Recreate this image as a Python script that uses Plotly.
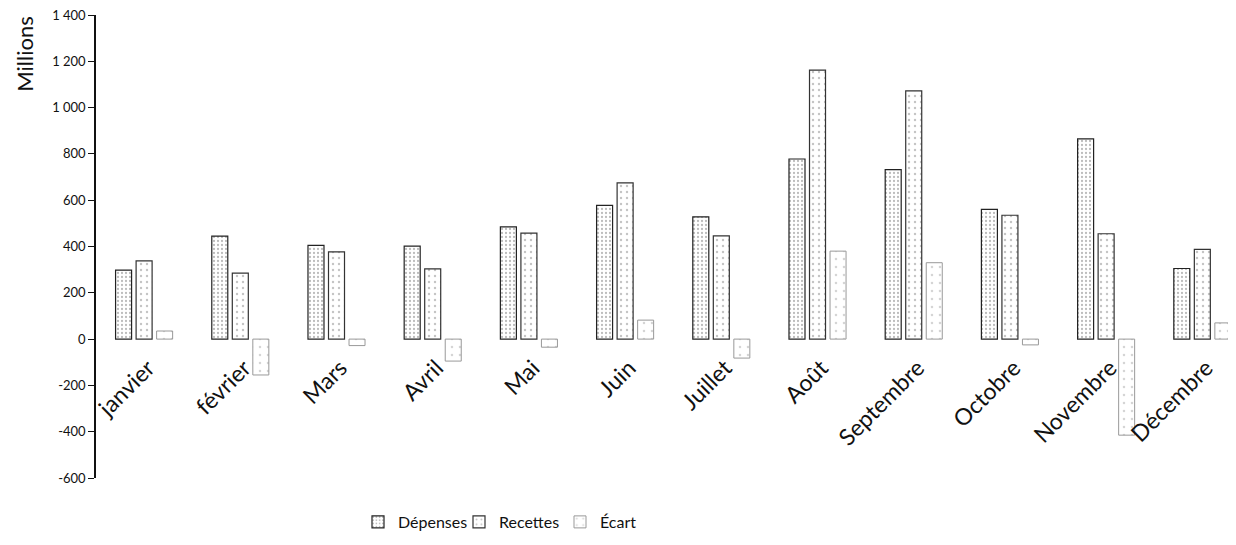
import plotly.graph_objects as go

mois = ["janvier", "février", "Mars", "Avril", "Mai", "Juin", "Juillet",
        "Août", "Septembre", "Octobre", "Novembre", "Décembre"]
depenses = [298, 445, 405, 402, 485, 578, 528, 778, 732, 560, 865, 305]
recettes = [338, 285, 377, 303, 458, 675, 446, 1162, 1072, 535, 455, 388]
ecart = [35, -155, -28, -95, -35, 82, -82, 380, 330, -25, -415, 70]

ytick_vals = [1400, 1200, 1000, 800, 600, 400, 200, 0, -200, -400, -600]
ytick_text = ["1 400", "1 200", "1 000", "800", "600", "400", "200", "0",
              "-200", "-400", "-600"]

fig = go.Figure()
fig.add_trace(go.Bar(
    name="Dépenses", x=mois, y=depenses,
    marker=dict(color="white", line=dict(color="#222", width=1.2),
                pattern=dict(shape=".", size=4, solidity=0.25,
                             fgcolor="#777", bgcolor="white")),
))
fig.add_trace(go.Bar(
    name="Recettes", x=mois, y=recettes,
    marker=dict(color="white", line=dict(color="#333", width=1.2),
                pattern=dict(shape=".", size=6, solidity=0.12,
                             fgcolor="#888", bgcolor="white")),
))
fig.add_trace(go.Bar(
    name="Écart", x=mois, y=ecart,
    marker=dict(color="white", line=dict(color="#999", width=1),
                pattern=dict(shape=".", size=8, solidity=0.08,
                             fgcolor="#aaa", bgcolor="white")),
))

fig.update_layout(
    width=1228, height=537,
    paper_bgcolor="white", plot_bgcolor="white",
    margin=dict(l=88, r=0, t=7, b=67, autoexpand=False),
    barmode="group", bargap=0.36, bargroupgap=0.22,
    font=dict(family="Lato, Open Sans, sans-serif", color="#111"),
    showlegend=True,
    legend=dict(orientation="h", x=(350 - 88) / 1140, xanchor="left",
                y=-0.095, yanchor="middle", font=dict(size=16),
                itemwidth=30, entrywidth=56, entrywidthmode="pixels",
                traceorder="normal"),
    xaxis=dict(
        type="category", range=[-0.5, 11.35],
        anchor="free", position=0.3, automargin=False,
        showline=False, ticks="", showgrid=False, zeroline=False,
        tickangle=-45, tickfont=dict(size=23),
        ticklabelstandoff=10, ticklabelshift=4, ticklabeloverflow="allow",
    ),
    yaxis=dict(
        range=[-600, 1400], tickvals=ytick_vals, ticktext=ytick_text,
        automargin=False, ticklabeloverflow="allow",
        showline=True, linecolor="#111", linewidth=1.5,
        ticks="outside", ticklen=6, tickcolor="#111",
        showgrid=False, zeroline=False, tickfont=dict(size=13),
    ),
    annotations=[dict(
        text="Millions", xref="paper", yref="paper",
        x=-0.063, y=1.0, xanchor="center", yanchor="top",
        textangle=-90, showarrow=False, font=dict(size=22),
    )],
)

fig.write_html("out.html")
